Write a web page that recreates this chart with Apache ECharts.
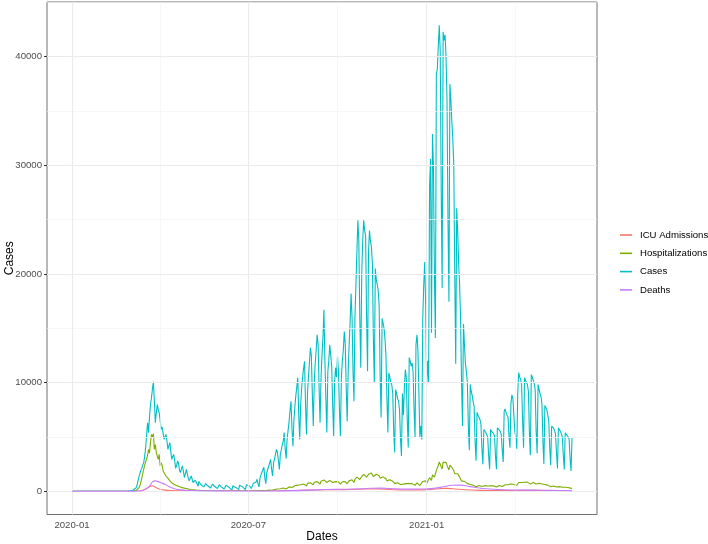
<!DOCTYPE html>
<html>
<head>
<meta charset="utf-8">
<script src="https://cdn.jsdelivr.net/npm/echarts@6/dist/echarts.min.js"></script>
<style>
html,body{margin:0;padding:0;background:#fff}
#chart{width:708px;height:544px}
</style>
</head>
<body>
<div id="chart"></div>
<script>
// daily series start here, one value per day
const startDate = '2020-01-01'

// rows = weeks (Mon..Sun), first row is Wed Jan 1 - Sun Jan 5
const cases = [
  0,0,0,0,0,
  0,0,0,0,0,0,0, 0,0,0,0,0,0,0, 0,0,0,0,0,0,0, 0,0,0,0,0,0,0,
  0,0,0,0,0,0,0, 0,0,0,0,0,0,0, 0,0,0,0,0,0,0,
  0,0,5,10,15,20,30,
  40,60,90,130,180,300,500,
  900,1300,1600,1900,2100,2400,2630,
  3200,4000,5200,6300,5380,6900,7980,
  8600,9400,10100,8300,6300,7200,7980,
  7500,7220,6500,5690,5900,6000,4770,
  5000,5230,4600,3850,4200,4470,3600,
  2930,3200,3390,2800,2100,2400,2780,
  2500,1900,1710,2100,2320,1800,1250,
  1600,2020,1600,1200,950,1200,1400,
  1100,800,700,1000,1100,700,450,
  900,800,600,700,650,400,250,
  700,600,500,550,450,300,200,
  650,550,450,500,400,250,150,
  600,450,400,380,350,200,120,
  550,420,380,350,300,200,120,
  500,400,380,350,320,200,150,
  550,420,380,400,350,220,150,
  600,480,460,500,420,250,180,
  700,650,750,850,1100,650,400,
  1200,1500,1740,1600,2200,1200,700,
  1700,2000,2300,2600,2930,2000,1400,
  2600,3000,3400,3850,3600,2800,2000,
  3400,3800,4300,4600,5400,3900,3000,
  4800,5600,6400,7400,8280,5800,4150,
  6500,7800,8800,9600,10450,7000,4770,
  8000,9500,10500,11300,11950,8000,5230,
  9000,10500,11800,13200,12500,9000,6000,
  10000,11800,13000,14400,13500,9500,6300,
  10500,12500,14200,16700,12000,8500,5400,
  11000,12000,13480,12500,11500,8000,5070,
  10000,11370,10500,12400,11000,7500,5070,
  10500,12000,13000,14700,13500,9500,6450,
  11000,13500,15500,18200,16000,11000,8280,
  16000,19000,22000,24940,23000,16000,11370,
  20000,23000,24940,24000,23500,16000,11030,
  22000,24000,23000,22500,21000,14000,9970,
  20500,19500,19000,18500,17000,10500,6780,
  15900,15500,15000,14000,12500,8500,5400,
  10900,10500,10000,9800,9000,5500,3570,
  9350,9000,8500,8300,7500,4800,3240,
  9000,7000,9500,11190,10500,6500,4030,
  12300,12000,11500,11800,11000,7500,5000,
  13500,14400,13000,9000,5000,6000,4770,
  16000,19000,21100,17000,9800,12000,10000,
  28000,30600,14580,32870,30000,20000,14100,
  38400,38860,41000,42880,40500,28000,18710,
  42270,41500,42000,40000,36000,25000,17440,
  37480,36000,34000,32400,30000,20000,11730,
  26040,24000,21000,19000,16000,10000,6000,
  15380,13500,11720,11000,10000,6000,3770,
  9810,9200,8800,8220,7800,4500,2810,
  7260,7000,6800,6600,6200,4000,2490,
  5680,5500,5400,5300,5000,3200,2020,
  5690,5500,5400,5300,5100,3300,2020,
  5840,6000,5700,5500,5200,3800,2700,
  7360,7580,7200,7000,6800,5000,4000,
  8130,8860,8500,7000,5500,5000,3900,
  9000,10920,10500,10300,9800,6500,4000,
  10450,10300,10000,9800,9200,5500,3300,
  10730,10500,10200,9900,9300,5500,3500,
  9810,9350,9000,8700,8000,4500,2500,
  7900,7820,7500,7000,6500,4000,2400,
  6000,5990,5800,5600,5200,3500,2100,
  5840,5680,5500,5300,5000,3300,2000,
  5380,5360,5200,5000,4800,3000,1860,
  4900
]

const hospitalizations = [
  0,0,0,0,0,
  0,0,0,0,0,0,0, 0,0,0,0,0,0,0, 0,0,0,0,0,0,0, 0,0,0,0,0,0,0,
  0,0,0,0,0,0,0, 0,0,0,0,0,0,0, 0,0,0,0,0,0,0,
  0,0,0,0,0,0,0,
  0,0,5,10,20,50,100,
  150,300,500,800,1200,1600,2020,
  2400,2700,2930,3300,3850,3500,4500,
  5230,5000,5300,3850,4300,3550,3600,
  2930,3390,2320,2630,2400,1860,2000,
  1700,1400,1500,1200,1100,950,1000,
  800,700,640,650,550,520,490,
  450,420,380,350,330,300,280,
  260,250,230,200,180,160,150,
  140,130,120,110,100,95,90,
  85,80,75,70,65,60,55,
  50,50,45,45,40,40,35,
  35,35,30,30,30,30,30,
  30,30,28,28,25,22,20,
  28,27,25,25,24,20,18,
  26,25,25,24,24,20,18,
  26,26,25,25,25,20,18,
  28,28,30,30,30,25,22,
  35,35,40,40,40,35,30,
  50,55,60,60,65,50,45,
  80,90,100,110,120,90,80,
  150,160,180,190,200,150,130,
  230,250,270,290,300,230,200,
  340,370,400,420,440,340,300,
  470,500,520,540,560,430,380,
  600,630,650,670,680,540,480,
  720,750,760,780,790,640,580,
  820,850,870,880,900,730,660,
  920,980,1010,1040,1060,880,800,
  950,980,1000,990,960,800,730,
  850,880,890,880,860,720,660,
  820,860,880,900,890,740,680,
  820,950,1000,1050,1050,880,800,
  1100,1250,1300,1350,1300,1080,960,
  1350,1450,1550,1600,1550,1300,1150,
  1550,1650,1710,1680,1600,1350,1200,
  1500,1560,1550,1500,1420,1200,1050,
  1300,1320,1280,1230,1150,950,850,
  1050,1050,1000,980,920,780,700,
  800,800,780,760,740,620,580,
  720,650,700,720,700,600,550,
  700,720,710,700,690,580,540,
  720,760,760,700,520,560,540,
  900,1000,1060,950,700,820,780,
  1250,1400,1000,1500,1550,1300,1200,
  1900,2150,2350,2700,2600,2250,2050,
  2650,2800,2700,2650,2500,2150,1950,
  2400,2350,2200,2050,1900,1600,1450,
  1700,1600,1450,1300,1150,950,850,
  950,900,820,750,700,580,520,
  620,600,570,540,520,440,400,
  560,540,520,510,500,430,400,
  520,510,500,490,480,410,380,
  500,500,490,490,480,410,380,
  520,530,530,520,500,430,400,
  580,600,610,610,600,510,480,
  660,690,700,620,560,580,550,
  700,800,820,820,800,690,640,
  820,850,850,840,820,700,650,
  800,820,810,790,770,660,610,
  740,730,710,690,660,560,520,
  620,600,580,560,530,450,420,
  510,500,480,460,440,380,350,
  430,420,400,390,370,320,300,
  370,360,350,340,320,280,260,
  300
]

// ICU admissions and deaths, read at selected dates
const icuDates = ['2020-01-01','2020-03-06','2020-03-12','2020-03-16','2020-03-19','2020-03-22','2020-03-24','2020-03-26','2020-03-29','2020-04-02',
  '2020-04-06','2020-04-12','2020-04-25','2020-05-15','2020-06-15','2020-07-15','2020-08-01','2020-08-15','2020-09-01','2020-09-15',
  '2020-10-01','2020-10-15','2020-11-01','2020-11-10','2020-11-25','2020-12-10','2020-12-28','2021-01-10','2021-01-20','2021-01-28',
  '2021-02-10','2021-02-25','2021-03-15','2021-04-10','2021-04-25','2021-05-15','2021-05-31']
const icu = [0,0,40,150,300,450,500,420,280,160,
  100,60,30,15,10,15,30,60,100,130,
  140,160,200,210,150,110,120,200,260,220,
  130,80,60,80,75,50,35]

const deathDates = ['2020-01-01','2020-03-05','2020-03-10','2020-03-14','2020-03-18','2020-03-21','2020-03-24','2020-03-27','2020-03-30','2020-04-02',
  '2020-04-06','2020-04-10','2020-04-15','2020-04-22','2020-05-05','2020-06-01','2020-07-15','2020-08-15','2020-09-01','2020-09-20',
  '2020-10-10','2020-10-25','2020-11-05','2020-11-15','2020-11-30','2020-12-15','2020-12-31','2021-01-15','2021-01-28','2021-02-05',
  '2021-02-15','2021-02-28','2021-03-15','2021-04-01','2021-04-20','2021-05-10','2021-05-31']
const deaths = [0,0,15,60,250,460,860,950,880,770,
  640,430,250,120,60,30,20,50,100,150,
  180,220,270,280,220,190,200,350,550,560,
  420,250,150,110,100,80,50]

// axis breaks (ggplot style: majors labelled, minors only as grid)
const xBreaks = ['2020-01-01','2020-07-01','2021-01-01']
const xMinorBreaks = ['2020-04-01','2020-10-01','2021-04-02']
const yBreaks = [0,10000,20000,30000,40000]
const yMinorBreaks = [5000,15000,25000,35000,45000]

const seriesNames = ['ICU Admissions','Hospitalizations','Cases','Deaths']
const colors = ['#F8766D','#7CAE00','#00BFC4','#C77CFF']

const DAY = 86400000
function toTime(s){
  const p = s.split('-')
  return Date.UTC(+p[0], +p[1]-1, +p[2])
}
function fmtMonth(v){
  const d = new Date(v)
  return d.getUTCFullYear() + '-' + String(d.getUTCMonth()+1).padStart(2,'0')
}

const t0 = toTime(startDate)
const daily = arr => arr.map((v,i)=>[t0 + i*DAY, v])
const paired = (dates, vals) => dates.map((d,i)=>[toTime(d), vals[i]])

const dataSets = [paired(icuDates, icu), daily(hospitalizations), daily(cases), paired(deathDates, deaths)]

// 5% expansion like ggplot
let tMin = Infinity, tMax = -Infinity, vMin = Infinity, vMax = -Infinity
dataSets.forEach(ds => ds.forEach(p => {
  tMin = Math.min(tMin,p[0]); tMax = Math.max(tMax,p[0])
  vMin = Math.min(vMin,p[1]); vMax = Math.max(vMax,p[1])
}))
const tPad = (tMax - tMin)*0.05, vPad = (vMax - vMin)*0.05

const majorLine = {color:'#ebebeb', width:1.1, type:'solid'}
const minorLine = {color:'#f4f4f4', width:0.7, type:'solid'}
const gridLines = []
yMinorBreaks.forEach(v => gridLines.push({yAxis:v, lineStyle:minorLine}))
xMinorBreaks.forEach(d => gridLines.push({xAxis:toTime(d), lineStyle:minorLine}))
yBreaks.forEach(v => gridLines.push({yAxis:v, lineStyle:majorLine}))
xBreaks.forEach(d => gridLines.push({xAxis:toTime(d), lineStyle:majorLine}))

const series = [{
  name:'_grid', type:'line', data:[], silent:true, z:1,
  markLine:{silent:true, symbol:['none','none'], label:{show:false}, animation:false, data:gridLines}
}]
seriesNames.forEach((name,i)=>{
  const sparse = (i===0 || i===3)
  series.push({
    name, type:'line', data:dataSets[i], showSymbol:false, symbol:'none',
    smooth: sparse ? 0.35 : false,
    lineStyle:{color:colors[i], width:1.1},
    itemStyle:{color:colors[i]},
    z:2+i
  })
})

var myChart = echarts.init(document.getElementById('chart'))
myChart.setOption({
  animation:false,
  textStyle:{fontFamily:'Liberation Sans, Arial, Helvetica, sans-serif'},
  grid:{left:47, top:2, width:550, height:512.5, containLabel:false, outerBoundsMode:'none',
        show:true, borderColor:'#4d4d4d', borderWidth:0.8, backgroundColor:'#ffffff'},
  legend:{
    data:seriesNames, orient:'vertical', left:620, top:229, padding:0,
    icon:'rect', itemWidth:12, itemHeight:1.6, itemGap:6.3,
    textStyle:{fontSize:9.6, color:'#000', lineHeight:12, padding:[0,0,0,3]}
  },
  xAxis:{
    type:'value', min:tMin - tPad, max:tMax + tPad,
    axisLine:{show:false},
    axisTick:{show:true, length:3, customValues:xBreaks.map(toTime), lineStyle:{color:'#333333'}},
    axisLabel:{customValues:xBreaks.map(toTime), formatter:fmtMonth, color:'#4d4d4d', fontSize:9.6, margin:6},
    splitLine:{show:false}, minorSplitLine:{show:false},
    name:'Dates', nameLocation:'middle', nameGap:16, nameMoveOverlap:false,
    nameTextStyle:{fontSize:12, color:'#000'}
  },
  yAxis:{
    type:'value', min:vMin - vPad, max:vMax + vPad,
    axisLine:{show:false},
    axisTick:{show:true, length:3, customValues:yBreaks, lineStyle:{color:'#333333'}},
    axisLabel:{customValues:yBreaks, formatter:v => String(v), color:'#4d4d4d', fontSize:9.6, margin:5},
    splitLine:{show:false},
    name:'Cases', nameLocation:'middle', nameGap:31, nameRotate:90, nameMoveOverlap:false,
    nameTextStyle:{fontSize:12, color:'#000'}
  },
  series
})
</script>
</body>
</html>
